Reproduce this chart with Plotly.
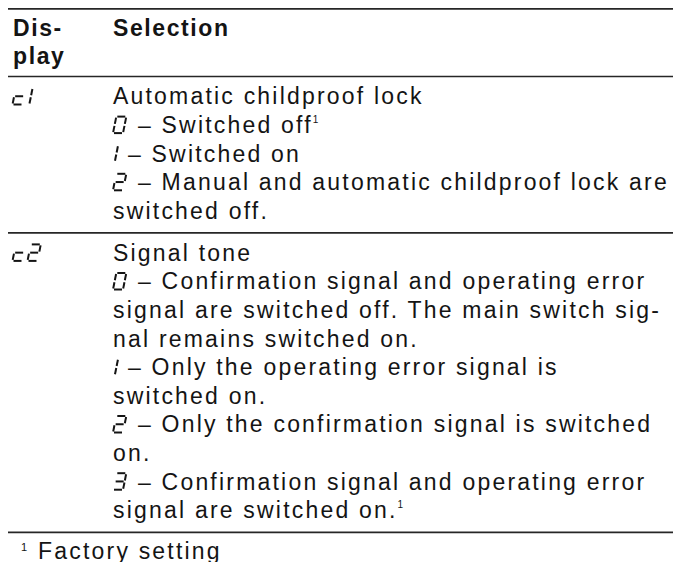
import plotly.graph_objects as go

# ---------------- data ----------------
header_display = ["Dis-", "play"]
header_selection = ["Selection"]
codes = ["c1", "c2"]
titles = ["Automatic childproof lock", "Signal tone"]
option_digits = [["0", "1", "2"], ["0", "1", "2", "3"]]
option_lines = [
    [["– Switched off¹"],
     ["– Switched on"],
     ["– Manual and automatic childproof lock are", "switched off."]],
    [["– Confirmation signal and operating error",
      "signal are switched off. The main switch sig-",
      "nal remains switched on."],
     ["– Only the operating error signal is", "switched on."],
     ["– Only the confirmation signal is switched", "on."],
     ["– Confirmation signal and operating error", "signal are switched on.¹"]],
]
footnote_mark = "1"
footnote_text = "Factory setting"

# ---------------- style / layout constants ----------------
WIDTH, HEIGHT = 681, 562
OFF = 8            # page body margin in the browser
FONT = "Liberation Sans, Arial, Helvetica, sans-serif"
FS = 23            # body font size
LS = 28.6          # line pitch
SPACING = 2.2      # letter spacing (regular)
SPACING_B = 1.6    # letter spacing (bold)
INK = "#141414"
RULE = "#262626"
X_RULE = 7
X_DISP = 12.5
X_SEL = 113

SEGS = {"0": "abcdef", "1": "bc", "2": "abged", "3": "abgcd", "c": "ged"}


def fmt(s, bold=False):
    sp = SPACING_B if bold else SPACING
    s = s.replace("¹", '<sup><span style="font-size:10px">1</span></sup>')
    out = f'<span style="letter-spacing:{sp}px">{s}</span>'
    return f"<b>{out}</b>" if bold else out


annotations = []
shapes = []


def text(x, baseline, s, bold=False, size=FS):
    annotations.append(dict(
        x=x - OFF, y=baseline - 0.35 * size - OFF, xref="x", yref="y",
        text=fmt(s, bold), showarrow=False, xanchor="left", yanchor="middle",
        align="left", borderpad=0, borderwidth=0,
        font=dict(family=FONT, size=size, color=INK)))


def rule(y):
    # paper-referenced so the rule is not clipped at the plot edge
    shapes.append(dict(type="line", xref="paper", yref="paper",
                       x0=(X_RULE - OFF) / WIDTH, x1=1.0,
                       y0=1 - (y - OFF) / HEIGHT, y1=1 - (y - OFF) / HEIGHT,
                       line=dict(color=RULE, width=1.7)))


def seven_seg(ch, x0, yb, h=16.5, w=10, slant=0.2, gap=1.0, lw=2.0):
    """Draw a seven-segment glyph at screen position; returns advance."""
    shift = (-w + 1.8) if ch == "1" else 0
    pts = {
        "a": ((0, h), (w, h)), "b": ((w, h), (w, h / 2)),
        "c": ((w, h / 2), (w, 0)), "d": ((0, 0), (w, 0)),
        "e": ((0, h / 2), (0, 0)), "f": ((0, h), (0, h / 2)),
        "g": ((0, h / 2), (w, h / 2)),
    }
    for s in SEGS[ch]:
        (u1, v1), (u2, v2) = pts[s]
        du, dv = u2 - u1, v2 - v1
        ln = (du ** 2 + dv ** 2) ** 0.5
        u1, v1 = u1 + du / ln * gap, v1 + dv / ln * gap
        u2, v2 = u2 - du / ln * gap, v2 - dv / ln * gap
        shapes.append(dict(
            type="line", xref="x", yref="y",
            x0=x0 + shift + u1 + v1 * slant - OFF, y0=yb - v1 - OFF,
            x1=x0 + shift + u2 + v2 * slant - OFF, y1=yb - v2 - OFF,
            line=dict(color=INK, width=lw)))
    return 15 if ch == "1" else 25


# ---------------- build ----------------
rule(8.9)
y_rule = 7.5
b = y_rule + 29
for i, s in enumerate(header_display):
    text(X_DISP, b + i * 28, s, bold=True)
text(X_SEL, b, header_selection[0], bold=True)
y_rule = b + 28 + 12
rule(y_rule)

for code, title, digits, lines in zip(codes, titles, option_digits, option_lines):
    b = y_rule + 28
    xc = X_DISP
    for ch in code:
        seven_seg(ch, xc, b)
        xc += 15 if ch == "c" else 14
    text(X_SEL, b, title)
    for d, opt in zip(digits, lines):
        b += LS
        adv = seven_seg(d, X_SEL, b)
        text(X_SEL + adv, b, opt[0])
        for extra in opt[1:]:
            b += LS
            text(X_SEL, b, extra)
    y_rule = b + 14
    rule(y_rule)

fb = y_rule + 27
text(21, fb - 8, footnote_mark, size=11)
text(38, fb, footnote_text)

fig = go.Figure()
fig.update_layout(
    width=WIDTH, height=HEIGHT, margin=dict(l=0, r=0, t=0, b=0),
    paper_bgcolor="white", plot_bgcolor="white",
    xaxis=dict(range=[0, WIDTH], visible=False, fixedrange=True),
    yaxis=dict(range=[HEIGHT, 0], visible=False, fixedrange=True),
    annotations=annotations, shapes=shapes, showlegend=False,
)
fig.write_html("out.html")
